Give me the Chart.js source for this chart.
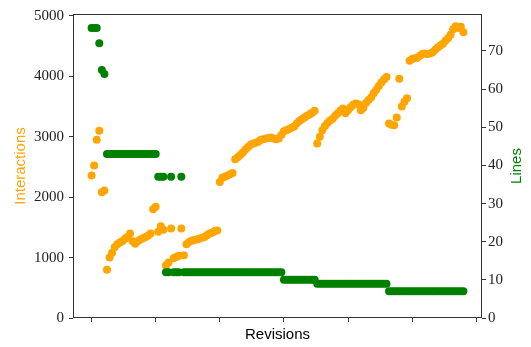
<!DOCTYPE html>
<html>
<head>
<meta charset="utf-8">
<script src="https://cdn.jsdelivr.net/npm/chart.js@4.4.1/dist/chart.umd.min.js"></script>
<style>
  html, body { margin: 0; padding: 0; background: #fff; }
  #wrap { width: 531px; height: 347px; position: relative; }
</style>
</head>
<body>
<div id="wrap"><canvas id="chart"></canvas></div>
<script>
// interactions per revision (left axis)
const interactions = [
  2360, 2525, 2950, 3100, 2080, 2110, 800, 1000, 1080, 1170,
  1220, 1250, 1270, 1310, 1340, 1400, 1270, 1230, 1270, 1300,
  1320, 1340, 1360, 1400, 1800, 1840, 1430, 1520, 1460, 870,
  920, 1480, 990, 1010, 1030, 1480, 1040, 1220, 1260, 1280,
  1290, 1300, 1310, 1330, 1340, 1370, 1400, 1410, 1440, 1450,
  2250, 2320, 2340, 2360, 2380, 2400, 2630, 2660, 2700, 2740,
  2790, 2830, 2870, 2890, 2900, 2920, 2950, 2960, 2970, 2980,
  2990, 2970, 2960, 2970, 3030, 3090, 3110, 3130, 3150, 3170,
  3220, 3260, 3290, 3320, 3350, 3370, 3400, 3430, 2890, 3000,
  3110, 3180, 3230, 3270, 3300, 3350, 3390, 3430, 3470, 3390,
  3440, 3490, 3530, 3550, 3540, 3440, 3480, 3560, 3610, 3650,
  3720, 3780, 3840, 3900, 3950, 3990, 3220, 3200, 3190, 3320,
  3960, 3500, 3580, 3640, 4260, 4290, 4300, 4310, 4340, 4370,
  4380, 4370, 4380, 4400, 4440, 4480, 4510, 4540, 4590, 4630,
  4690, 4780, 4830, 4800, 4820, 4730
];

// lines per revision (right axis)
const lines = [
  76, 76, 76, 72, 65, 64, 43, 43, 43, 43,
  43, 43, 43, 43, 43, 43, 43, 43, 43, 43,
  43, 43, 43, 43, 43, 43, 37, 37, 37, 12,
  12, 37, 12, 12, 12, 37, 12, 12, 12, 12,
  12, 12, 12, 12, 12, 12, 12, 12, 12, 12,
  12, 12, 12, 12, 12, 12, 12, 12, 12, 12,
  12, 12, 12, 12, 12, 12, 12, 12, 12, 12,
  12, 12, 12, 12, 12, 10, 10, 10, 10, 10,
  10, 10, 10, 10, 10, 10, 10, 10, 9, 9,
  9, 9, 9, 9, 9, 9, 9, 9, 9, 9,
  9, 9, 9, 9, 9, 9, 9, 9, 9, 9,
  9, 9, 9, 9, 9, 9, 7, 7, 7, 7,
  7, 7, 7, 7, 7, 7, 7, 7, 7, 7,
  7, 7, 7, 7, 7, 7, 7, 7, 7, 7,
  7, 7, 7, 7, 7, 7
];

const xTicks = [0, 25, 50, 75, 100, 125, 150];
const leftTicks = [0, 1000, 2000, 3000, 4000, 5000];
const rightTicks = [0, 10, 20, 30, 40, 50, 60, 70];

const orange = '#ffa500';
const green = '#008000';
const axisColor = '#333333';

const tickFont = { family: 'Liberation Serif', size: 15 };
const titleFont = { family: 'Liberation Sans', size: 15 };

// box around the plot, like the matplotlib spines
const frame = {
  id: 'frame',
  afterDatasetsDraw(chart) {
    const { ctx, chartArea: a } = chart;
    ctx.save();
    ctx.strokeStyle = axisColor;
    ctx.lineWidth = 1;
    ctx.strokeRect(Math.round(a.left) + 0.5, Math.round(a.top) + 0.5,
      Math.round(a.right - a.left) - 1, Math.round(a.bottom - a.top) - 1);
    ctx.restore();
  }
};

// right axis title reads bottom-to-top, which Chart.js won't do on its own
const rightTitle = {
  id: 'rightTitle',
  afterDraw(chart) {
    const { ctx, chartArea: a } = chart;
    ctx.save();
    ctx.translate(517, (a.top + a.bottom) / 2);
    ctx.rotate(-Math.PI / 2);
    ctx.font = `${titleFont.size}px "${titleFont.family}"`;
    ctx.fillStyle = green;
    ctx.textAlign = 'center';
    ctx.textBaseline = 'middle';
    ctx.fillText('Lines', 0, 0);
    ctx.restore();
  }
};

const setTicks = (values) => (scale) => {
  scale.ticks = values.map(v => ({ value: v }));
};

new Chart(document.getElementById('chart'), {
  type: 'scatter',
  data: {
    datasets: [
      {
        label: 'Lines',
        data: lines.map((v, i) => ({ x: i, y: v })),
        yAxisID: 'y2',
        backgroundColor: green,
        borderWidth: 0,
        pointRadius: 4,
        order: 1,
      },
      {
        label: 'Interactions',
        data: interactions.map((v, i) => ({ x: i, y: v })),
        yAxisID: 'y',
        backgroundColor: orange,
        borderWidth: 0,
        pointRadius: 4,
        order: 2,
      },
    ],
  },
  options: {
    animation: false,
    responsive: true,
    maintainAspectRatio: false,
    layout: { padding: { top: 13, left: 0, right: 0, bottom: 0 } },
    scales: {
      x: {
        type: 'linear',
        min: -7.25,
        max: 152.25,
        afterBuildTicks: setTicks(xTicks),
        afterFit: (scale) => { scale.height = 29; },
        border: { display: false },
        grid: { drawOnChartArea: false, drawTicks: true, tickLength: 4, color: axisColor },
        ticks: { callback: () => '', font: tickFont },
        title: { display: true, text: 'Revisions', color: '#000', font: titleFont, padding: { top: 0, bottom: 3 } },
      },
      y: {
        position: 'left',
        min: 0,
        max: 5033,
        afterBuildTicks: setTicks(leftTicks),
        afterFit: (scale) => { scale.width = 73; },
        border: { display: false },
        grid: { drawOnChartArea: false, drawTicks: true, tickLength: 4, color: axisColor },
        ticks: { color: '#222', font: tickFont, padding: 5, callback: (v) => String(v) },
        title: { display: true, text: 'Interactions', color: orange, font: titleFont, padding: { top: 12, bottom: 0 } },
      },
      y2: {
        position: 'right',
        min: 0,
        max: 79.7,
        afterBuildTicks: setTicks(rightTicks),
        afterFit: (scale) => { scale.width = 49; },
        border: { display: false },
        grid: { drawOnChartArea: false, drawTicks: true, tickLength: 4, color: axisColor },
        ticks: { color: '#222', font: tickFont, padding: 2, callback: (v) => String(v) },
        title: { display: false },
      },
    },
    plugins: {
      legend: { display: false },
      tooltip: { enabled: false },
    },
  },
  plugins: [frame, rightTitle],
});
</script>
</body>
</html>
